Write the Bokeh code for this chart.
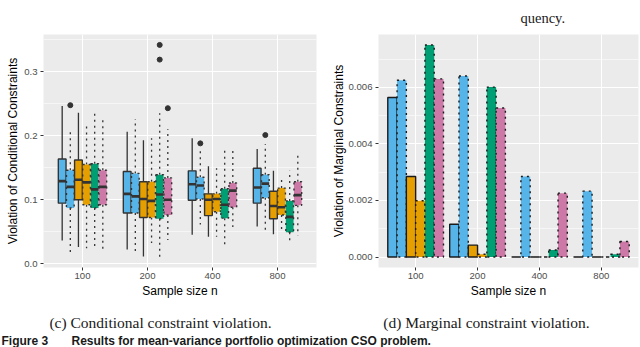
from bokeh.plotting import figure
from bokeh.models import Range1d, FixedTicker, ColumnDataSource, PrintfTickFormatter
from bokeh.layouts import column, row
from bokeh.embed import file_html
from bokeh.resources import INLINE
from bokeh.core.properties import value

# ---------------- data ----------------
categories = ["100", "200", "400", "800"]
series_names = ["M1 (solid)", "M1 (dotted)", "M2 (solid)", "M2 (dotted)", "M3 (dotted)", "M4 (dotted)"]
series_colors = ["#56B4E9", "#56B4E9", "#E69F00", "#E69F00", "#009E73", "#CC79A7"]
series_dash = ["solid", "dotted", "solid", "dotted", "dotted", "dotted"]

# (c) conditional constraint violation: box-plot statistics, one row per series, one column per sample size
box_whisker_low = [
    [0.036, 0.022, 0.045, 0.058],
    [0.018, 0.019, 0.061, 0.053],
    [0.026, 0.011, 0.042, 0.046],
    [0.024, 0.032, 0.042, 0.053],
    [0.027, 0.010, 0.030, 0.031],
    [0.022, 0.037, 0.057, 0.044],
]
box_q1 = [
    [0.0945, 0.079, 0.099, 0.0945],
    [0.087, 0.079, 0.101, 0.103],
    [0.0997, 0.072, 0.075, 0.070],
    [0.092, 0.072, 0.081, 0.076],
    [0.087, 0.070, 0.071, 0.049],
    [0.092, 0.076, 0.088, 0.091],
]
box_median = [
    [0.129, 0.109, 0.124, 0.119],
    [0.120, 0.105, 0.122, 0.125],
    [0.131, 0.101, 0.0997, 0.090],
    [0.127, 0.098, 0.101, 0.088],
    [0.116, 0.108, 0.092, 0.073],
    [0.120, 0.0997, 0.114, 0.107],
]
box_q3 = [
    [0.1636, 0.144, 0.145, 0.149],
    [0.146, 0.141, 0.135, 0.139],
    [0.162, 0.128, 0.109, 0.113],
    [0.155, 0.128, 0.109, 0.118],
    [0.156, 0.139, 0.117, 0.098],
    [0.146, 0.134, 0.126, 0.128],
]
box_whisker_high = [
    [0.2466, 0.206, 0.196, 0.179],
    [0.211, 0.226, 0.180, 0.187],
    [0.236, 0.193, 0.152, 0.145],
    [0.218, 0.196, 0.149, 0.137],
    [0.240, 0.235, 0.179, 0.145],
    [0.224, 0.210, 0.179, 0.175],
]
outlier_series = [1, 4, 4, 5, 1, 1]
outlier_category = ["100", "200", "200", "200", "400", "800"]
outlier_value = [0.2477, 0.342, 0.319, 0.243, 0.188, 0.201]

# (d) marginal constraint violation: bar heights
bar_values = [
    [0.00564, 0.00116, 0.0, 0.0],
    [0.00625, 0.00640, 0.00285, 0.00233],
    [0.00285, 0.00042, 0.0, 0.0],
    [0.00199, 0.00010, 0.0, 0.0],
    [0.00750, 0.00601, 0.00025, 0.00010],
    [0.00630, 0.00527, 0.00226, 0.00055],
]

left_yticks = [0.0, 0.1, 0.2, 0.3]
left_yminor = [0.05, 0.15, 0.25, 0.35]
right_yticks = [0.0, 0.002, 0.004, 0.006]
right_yminor = [0.001, 0.003, 0.005, 0.007]

left_ylabel = "Violation of Conditional Constraints"
right_ylabel = "Violation of Marginal Constraints"
xlabel = "Sample size n"
caption_top = "quency."
caption_c = "(c) Conditional constraint violation."
caption_d = "(d) Marginal constraint violation."
fig_label = "Figure 3"
fig_title = "Results for mean-variance portfolio optimization CSO problem."

# ---------------- styling helpers ----------------
SANS = "Liberation Sans"
SERIF = "Liberation Serif"
PANEL = "#EBEBEB"
n_series = len(series_names)
cat_pos = {c: i + 1 for i, c in enumerate(categories)}


def make_panel(width, border_left, border_right, x_rng, y_rng, yticks, yminor, fmt, ylabel, ystandoff):
    p = figure(width=width, height=270, x_range=Range1d(*x_rng), y_range=Range1d(*y_rng),
               toolbar_location=None, output_backend="svg",
               min_border_left=border_left, min_border_right=border_right,
               min_border_top=4, min_border_bottom=32)
    p.background_fill_color = PANEL
    p.border_fill_color = "white"
    p.outline_line_color = None
    # x axis
    p.xaxis.ticker = FixedTicker(ticks=[cat_pos[c] for c in categories])
    p.xaxis.major_label_overrides = {cat_pos[c]: c for c in categories}
    # y axis
    p.yaxis.ticker = FixedTicker(ticks=yticks, minor_ticks=yminor)
    p.yaxis.formatter = PrintfTickFormatter(format=fmt)
    for ax in (p.xaxis, p.yaxis):
        ax.axis_line_color = None
        ax.major_tick_line_color = "#333333"
        ax.major_tick_line_width = 1
        ax.major_tick_out = 3
        ax.major_tick_in = 0
        ax.minor_tick_line_color = None
        ax.major_label_text_font = SANS
        ax.major_label_text_font_size = "9.6px"
        ax.major_label_text_color = "#4D4D4D"
        ax.axis_label_text_font = SANS
        ax.axis_label_text_font_size = "12px"
        ax.axis_label_text_font_style = "normal"
        ax.axis_label_text_color = "black"
    p.xaxis.major_label_standoff = 2
    p.xaxis.axis_label_standoff = 2
    p.yaxis.major_label_standoff = 2
    p.yaxis.axis_label_standoff = ystandoff
    p.xaxis.axis_label = xlabel
    p.yaxis.axis_label = ylabel
    # grid
    p.xgrid.grid_line_color = "white"
    p.xgrid.grid_line_width = 1.1
    p.ygrid.grid_line_color = "white"
    p.ygrid.grid_line_width = 1.1
    p.ygrid.minor_grid_line_color = "white"
    p.ygrid.minor_grid_line_width = 0.55
    return p


# ---------------- (c) box plots ----------------
p1 = make_panel(320, 43, 4, (0.4, 4.6), (-0.0062, 0.3583), left_yticks, left_yminor,
                "%.1f", left_ylabel, 1)
slot = 0.75 / n_series
bw = slot * 0.95
for i in range(n_series):
    xs = [cat_pos[c] + (i - (n_series - 1) / 2) * slot for c in categories]
    src = ColumnDataSource(dict(
        x=xs, lo=box_whisker_low[i], q1=box_q1[i], med=box_median[i],
        q3=box_q3[i], hi=box_whisker_high[i],
        xl=[x - bw / 2 for x in xs], xr=[x + bw / 2 for x in xs]))
    p1.segment(x0="x", y0="q3", x1="x", y1="hi", source=src, line_color="#333333",
               line_width=1.3, line_dash=series_dash[i])
    p1.segment(x0="x", y0="q1", x1="x", y1="lo", source=src, line_color="#333333",
               line_width=1.3, line_dash=series_dash[i])
    p1.vbar(x="x", width=bw, bottom="q1", top="q3", source=src, fill_color=series_colors[i],
            line_color="#333333", line_width=1.4, line_dash=series_dash[i])
    p1.segment(x0="xl", y0="med", x1="xr", y1="med", source=src, line_color="#333333",
               line_width=2.6)

ox = [cat_pos[c] + (s - (n_series - 1) / 2) * slot for s, c in zip(outlier_series, outlier_category)]
p1.scatter(x=ox, y=outlier_value, size=5, fill_color="#333333", line_color="#333333")

# ---------------- (d) bars ----------------
p2 = make_panel(320, 58, 2, (0.4, 4.6), (-0.00037, 0.00787), right_yticks, right_yminor,
                "%.3f", right_ylabel, -1)
bwid = 0.9 / n_series
for i in range(n_series):
    xs = [cat_pos[c] + (i - (n_series - 1) / 2) * bwid for c in categories]
    src = ColumnDataSource(dict(left=[x - bwid / 2 for x in xs], right=[x + bwid / 2 for x in xs],
                                top=bar_values[i], bottom=[0.0] * len(xs)))
    p2.quad(left="left", right="right", top="top", bottom="bottom", source=src,
            fill_color=series_colors[i], line_color="#1A1A1A", line_width=1.4,
            line_dash=series_dash[i])


# ---------------- text strips ----------------
def strip(height, y0, y1):
    s = figure(width=640, height=height, x_range=Range1d(0, 640), y_range=Range1d(y1, y0),
               toolbar_location=None, output_backend="svg", min_border=0,
               x_axis_location=None, y_axis_location=None)
    s.outline_line_color = None
    s.grid.visible = False
    s.background_fill_color = "white"
    s.border_fill_color = "white"
    return s


top = strip(30, 0, 30)
top.text(x=[520], y=[17], text=[caption_top], text_font=value(SERIF), text_font_size="14.5px",
         text_align="left", text_baseline="middle", text_color="#1A1A1A")

cap = strip(47, 300, 347)
cap.text(x=[160, 486], y=[322, 322], text=[caption_c, caption_d], text_font=value(SERIF),
         text_font_size="15.5px", text_align="center", text_baseline="middle", text_color="#1A1A1A")
cap.text(x=[1, 71], y=[340, 340], text=[fig_label, fig_title], text_font=value(SANS),
         text_font_size="12px", text_font_style="bold", text_align="left", text_baseline="middle",
         text_color="#1A1A1A")

layout = column(top, row(p1, p2), cap)
open("out.html", "w").write(file_html(layout, INLINE))
